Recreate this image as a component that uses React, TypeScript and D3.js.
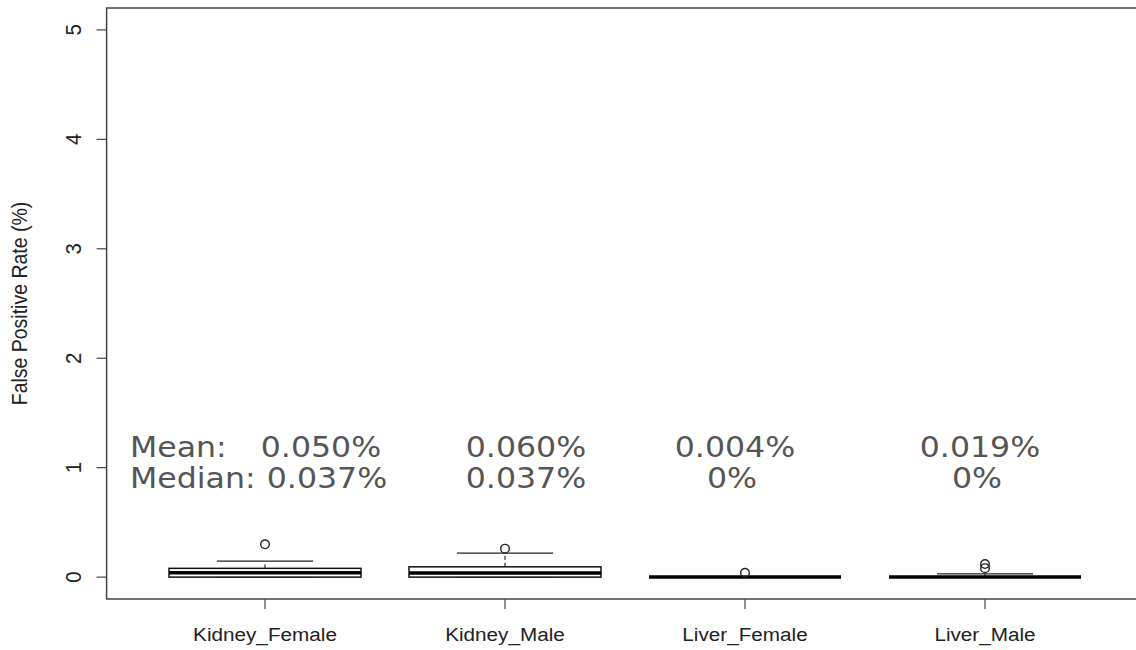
import React from "react";
import * as d3 from "d3";

const categories = ["Kidney_Female", "Kidney_Male", "Liver_Female", "Liver_Male"];
const lowerWhisker = [0, 0, 0, 0];
const q1 = [0, 0, 0, 0];
const medians = [0.039, 0.037, 0, 0];
const q3 = [0.08, 0.094, 0, 0];
const upperWhisker = [0.146, 0.22, 0, 0.03];
const outliers: number[][] = [[0.3], [0.26], [0.04], [0.119, 0.082]];
const yTicks = [0, 1, 2, 3, 4, 5];
const meanLabels = ["0.050%", "0.060%", "0.004%", "0.019%"];
const medianLabels = ["0.037%", "0.037%", "0%", "0%"];

// layout offsets of annotation text relative to category centres (pixels)
const meanOffsets = [56, 21, -10, -5];
const medianOffsets = [62, 21, -13, -8];

const W = 1136;
const H = 650;

export default function App() {
  const x = d3.scaleLinear().domain([0.34, 4.66]).range([106.6, 1143.4]);
  const y = d3.scaleLinear().domain([-0.2, 5.2]).range([599, 8]);
  const halfBox = x(1.4) - x(1);
  const halfCap = x(1.2) - x(1);
  const axisColor = "#444";
  const textFont = "'Liberation Sans', Arial, sans-serif";
  const annFont = "'DejaVu Sans', Verdana, sans-serif";
  const sx = 1.09;

  const Ann = ({ tx, ty, anchor, children }: any) => (
    <text
      transform={`translate(${tx},${ty}) scale(${sx},1)`}
      textAnchor={anchor}
      fontFamily={annFont}
      fontSize={29}
      fill="#555"
    >
      {children}
    </text>
  );

  return (
    <svg
      width={W}
      height={H}
      style={{ position: "absolute", left: 0, top: 0, background: "#fff" }}
    >
      {/* frame */}
      <rect
        x={x(0.34)}
        y={y(5.2)}
        width={x(4.66) - x(0.34)}
        height={y(-0.2) - y(5.2)}
        fill="none"
        stroke={axisColor}
        strokeWidth={1.5}
      />
      {/* y ticks */}
      {yTicks.map((t) => (
        <g key={t}>
          <line x1={x(0.34) - 10} x2={x(0.34)} y1={y(t)} y2={y(t)} stroke={axisColor} strokeWidth={1.2} />
          <text
            transform={`translate(${x(0.34) - 33},${y(t)}) rotate(-90) scale(1,${sx})`}
            textAnchor="middle"
            dominantBaseline="central"
            fontFamily={textFont}
            fontSize={20.5}
            fill="#222"
          >
            {t}
          </text>
        </g>
      ))}
      <text
        transform={`translate(20,${(y(-0.2) + y(5.2)) / 2}) rotate(-90) scale(1,${sx})`}
        textAnchor="middle"
        dominantBaseline="central"
        fontFamily={textFont}
        fontSize={19.5}
        fill="#222"
      >
        False Positive Rate (%)
      </text>
      {/* x ticks */}
      {categories.map((c, i) => (
        <g key={c}>
          <line x1={x(i + 1)} x2={x(i + 1)} y1={y(-0.2)} y2={y(-0.2) + 10} stroke={axisColor} strokeWidth={1.2} />
          <text
            transform={`translate(${x(i + 1)},641) scale(${sx},1)`}
            textAnchor="middle"
            fontFamily={textFont}
            fontSize={19}
            fill="#222"
          >
            {c}
          </text>
        </g>
      ))}
      {/* boxes */}
      {categories.map((c, i) => {
        const cx = x(i + 1);
        return (
          <g key={"b" + c}>
            <line x1={cx} x2={cx} y1={y(q3[i])} y2={y(upperWhisker[i])} stroke="#000" strokeWidth={1} strokeDasharray="4,3" />
            <line x1={cx} x2={cx} y1={y(q1[i])} y2={y(lowerWhisker[i])} stroke="#000" strokeWidth={1} strokeDasharray="4,3" />
            <line x1={cx - halfCap} x2={cx + halfCap} y1={y(upperWhisker[i])} y2={y(upperWhisker[i])} stroke="#222" strokeWidth={1.3} />
            <line x1={cx - halfCap} x2={cx + halfCap} y1={y(lowerWhisker[i])} y2={y(lowerWhisker[i])} stroke="#222" strokeWidth={1.3} />
            <rect
              x={cx - halfBox}
              y={y(q3[i])}
              width={2 * halfBox}
              height={Math.max(0, y(q1[i]) - y(q3[i]))}
              fill="#fff"
              stroke="#111"
              strokeWidth={1.5}
            />
            <line x1={cx - halfBox} x2={cx + halfBox} y1={y(medians[i])} y2={y(medians[i])} stroke="#000" strokeWidth={3.5} />
            {outliers[i].map((o, j) => (
              <circle key={j} cx={cx} cy={y(o)} r={4.3} fill="none" stroke="#222" strokeWidth={1.4} />
            ))}
          </g>
        );
      })}
      {/* annotations */}
      <Ann tx={130} ty={457} anchor="start">Mean:</Ann>
      <Ann tx={130} ty={488} anchor="start">Median:</Ann>
      {categories.map((c, i) => (
        <g key={"a" + c}>
          <Ann tx={x(i + 1) + meanOffsets[i]} ty={457} anchor="middle">{meanLabels[i]}</Ann>
          <Ann tx={x(i + 1) + medianOffsets[i]} ty={488} anchor="middle">{medianLabels[i]}</Ann>
        </g>
      ))}
    </svg>
  );
}
